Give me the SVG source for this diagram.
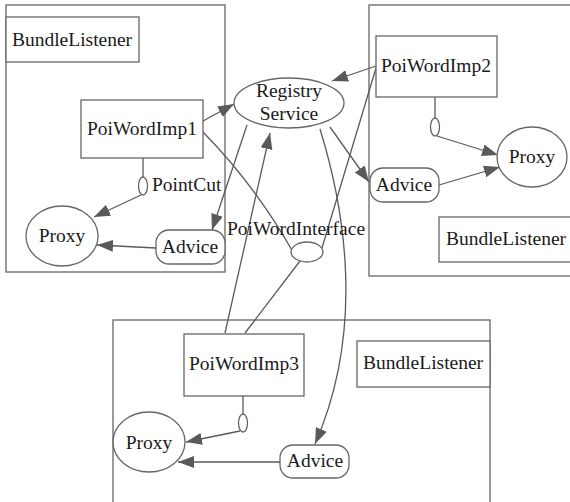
<svg xmlns="http://www.w3.org/2000/svg" width="570" height="502" viewBox="0 0 570 502">
<defs>
<style>
.c{fill:none;stroke:#666;stroke-width:1.3}
.n{fill:#fff;stroke:#666;stroke-width:1.3}
.e{fill:none;stroke:#5a5a5a;stroke-width:1.3}
.a{marker-end:url(#ah)}
text{font-family:"Liberation Serif","Times New Roman",serif;font-size:19.5px;fill:#1a1a1a;text-anchor:middle}
</style>
<marker id="ah" markerUnits="userSpaceOnUse" markerWidth="18" markerHeight="14" refX="16" refY="6" orient="auto">
<path d="M0,0 L16,6 L0,12 z" fill="#5a5a5a"/>
</marker>
</defs>
<rect width="570" height="502" fill="#fff"/>
<g id="cluster1"><rect class="c" x="6" y="5" width="219" height="267"/></g>
<g id="cluster2"><rect class="c" x="369" y="5" width="205" height="271"/></g>
<g id="cluster3"><rect class="c" x="113" y="320" width="377" height="185"/></g>
<g id="connectors">
<path class="e a" d="M203,121 L234,104"/>
<path class="e" d="M203,132 Q255,185 293,252"/>
<path class="e" d="M143,158 L143,177"/>
<path class="e a" d="M141,195 L94,217"/>
<path class="e a" d="M156,248 L97,245"/>
<path class="e a" d="M247,125 L212,230"/>
<path class="e a" d="M376,66 L332,81"/>
<path class="e" d="M376,68 Q348,160 322,248"/>
<path class="e a" d="M330,127 L369,182"/>
<path class="e" d="M435,97 L435,118"/>
<path class="e a" d="M437,136 L498,155"/>
<path class="e a" d="M439,185 L500,167"/>
<path class="e a" d="M320,129 C345,210 365,330 315,444"/>
<path class="e" d="M300,261 L245,333"/>
<path class="e a" d="M225,333 L270,133"/>
<path class="e" d="M243,396 L243,414"/>
<path class="e a" d="M240,431 L186,442"/>
<path class="e a" d="M280,462 L178,462"/>
</g>
<g id="bundle1"><rect class="n" x="6" y="17" width="133" height="45"/><text x="72" y="46">BundleListener</text></g>
<g id="imp1"><rect class="n" x="81" y="100" width="122" height="58"/><text x="142" y="135">PoiWordImp1</text></g>
<g id="pointcut1"><ellipse class="n" cx="143" cy="186" rx="4.5" ry="9"/><text x="152" y="191" style="text-anchor:start">PointCut</text></g>
<g id="proxy1"><ellipse class="n" cx="62" cy="236" rx="36" ry="30"/><text x="62" y="242">Proxy</text></g>
<g id="advice1"><rect class="n" x="156" y="230" width="69" height="34" rx="13"/><text x="190" y="253">Advice</text></g>
<g id="registry"><ellipse class="n" cx="289" cy="103" rx="55" ry="25"/><text x="289" y="97">Registry</text><text x="289" y="120">Service</text></g>
<g id="imp2"><rect class="n" x="376" y="36" width="121" height="61"/><text x="436" y="72">PoiWordImp2</text></g>
<g id="pc2"><ellipse class="n" cx="435" cy="127" rx="4.5" ry="9"/></g>
<g id="proxy2"><ellipse class="n" cx="532" cy="157" rx="35" ry="30"/><text x="532" y="163">Proxy</text></g>
<g id="advice2"><rect class="n" x="370" y="168" width="69" height="34" rx="13"/><text x="404" y="191">Advice</text></g>
<g id="bundle2"><rect class="n" x="439" y="217" width="135" height="45"/><text x="506" y="245">BundleListener</text></g>
<g id="interface"><ellipse class="n" cx="307" cy="252" rx="16" ry="10"/><text x="296" y="235">PoiWordInterface</text></g>
<g id="imp3"><rect class="n" x="184" y="334" width="120" height="62"/><text x="244" y="370">PoiWordImp3</text></g>
<g id="pc3"><ellipse class="n" cx="243" cy="423" rx="4.5" ry="9"/></g>
<g id="proxy3"><ellipse class="n" cx="149" cy="442" rx="36" ry="30"/><text x="149" y="449">Proxy</text></g>
<g id="advice3"><rect class="n" x="280" y="445" width="69" height="33" rx="13"/><text x="315" y="467">Advice</text></g>
<g id="bundle3"><rect class="n" x="357" y="341" width="133" height="46"/><text x="423" y="369">BundleListener</text></g>
</svg>
